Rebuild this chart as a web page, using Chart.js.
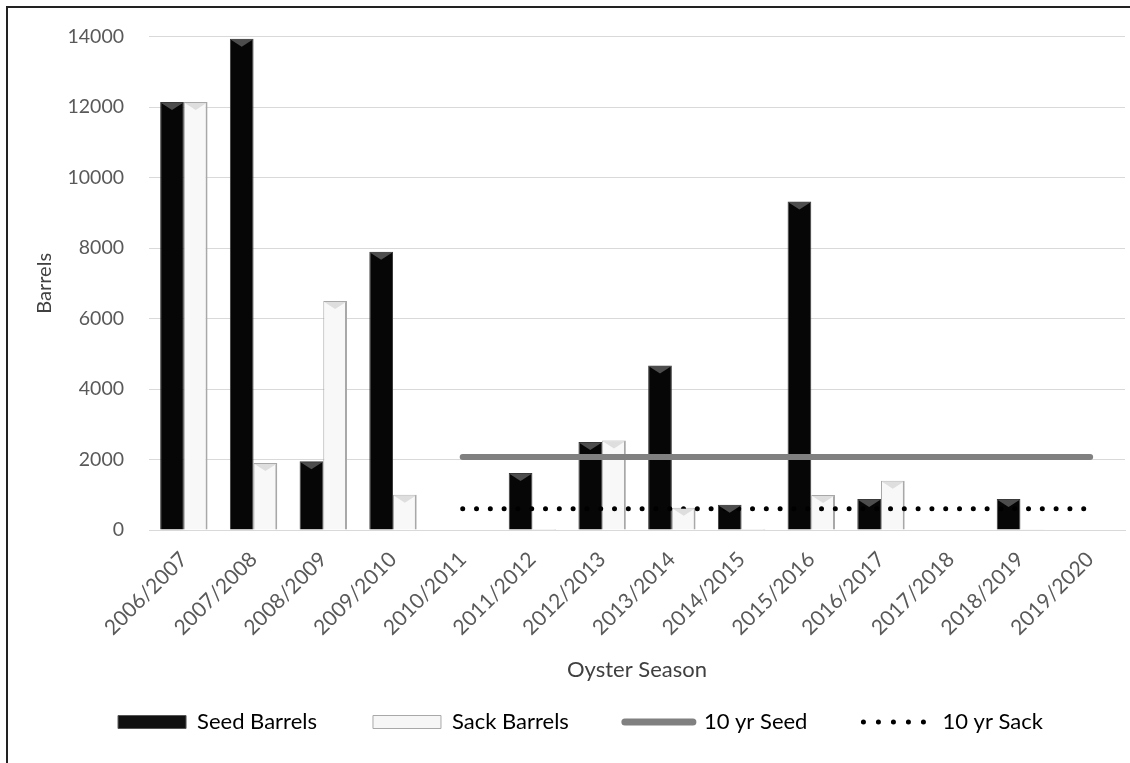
<!DOCTYPE html>
<html>
<head>
<meta charset="utf-8">
<script src="https://cdn.jsdelivr.net/npm/chart.js@4.4.1/dist/chart.umd.min.js"></script>
<style>
  html, body { margin: 0; padding: 0; background: #fff; }
  #wrap { position: relative; width: 1130px; height: 763px; overflow: hidden; background: #fff; }
  #frame { position: absolute; left: 6px; top: 6px; width: 1200px; height: 800px;
           border-top: 2px solid #222; border-left: 2px solid #222; pointer-events: none; }
  canvas { position: absolute; left: 0; top: 0; }
</style>
</head>
<body>
<div id="wrap">
  <canvas id="oysters" width="1130" height="763"></canvas>
  <div id="frame"></div>
</div>
<script>
const seasons = ['2006/2007', '2007/2008', '2008/2009', '2009/2010', '2010/2011', '2011/2012', '2012/2013',
  '2013/2014', '2014/2015', '2015/2016', '2016/2017', '2017/2018', '2018/2019', '2019/2020']
const seedBarrels = [12150, 13940, 1950, 7900, 0, 1620, 2500, 4670, 720, 9320, 880, 0, 880, 0]
const sackBarrels = [12150, 1900, 6500, 1000, 0, 30, 2540, 630, 30, 990, 1400, 0, 20, 0]
const tenYrSeed = [null, null, null, null, 2070, 2070, 2070, 2070, 2070, 2070, 2070, 2070, 2070, 2070]
const tenYrSack = [null, null, null, null, 600, 600, 600, 600, 600, 600, 600, 600, 600, 600]
const yTicks = [0, 2000, 4000, 6000, 8000, 10000, 12000, 14000]

// little bevel on the top of each bar, like the office-style 3D bars
const bevel = {
  id: 'bevel',
  afterDatasetsDraw(chart) {
    const ctx = chart.ctx
    ;[0, 1].forEach(i => {
      const meta = chart.getDatasetMeta(i)
      meta.data.forEach(bar => {
        const h = bar.base - bar.y
        if (h < 12) return
        const half = bar.width / 2
        ctx.save()
        ctx.beginPath()
        ctx.moveTo(bar.x - half + 1, bar.y + 1)
        ctx.lineTo(bar.x + half - 1, bar.y + 1)
        ctx.lineTo(bar.x, bar.y + 8)
        ctx.closePath()
        ctx.fillStyle = i === 0 ? '#4d4d4d' : '#dedede'
        ctx.fill()
        ctx.restore()
      })
    })
  }
}

function draw() {
  const ctx = document.querySelector('#oysters')

  new Chart(ctx, {
    data: {
      labels: seasons,
      datasets: [
        {
          type: 'bar',
          label: 'Seed Barrels',
          data: seedBarrels,
          backgroundColor: '#060606',
          borderColor: '#3a3a3a',
          borderWidth: 1,
          categoryPercentage: 0.68,
          barPercentage: 1,
          order: 2
        },
        {
          type: 'bar',
          label: 'Sack Barrels',
          data: sackBarrels,
          backgroundColor: '#f8f8f8',
          borderColor: '#a8a8a8',
          borderWidth: { left: 1, right: 2, top: 1, bottom: 0 },
          categoryPercentage: 0.68,
          barPercentage: 1,
          order: 2
        },
        {
          type: 'line',
          label: '10 yr Seed',
          data: tenYrSeed,
          borderColor: '#808080',
          borderWidth: 6,
          borderCapStyle: 'round',
          pointRadius: 0,
          fill: false,
          order: 1
        },
        {
          type: 'line',
          label: '10 yr Sack',
          data: tenYrSack,
          borderColor: '#000000',
          borderWidth: 5,
          borderDash: [0, 13.8],
          borderCapStyle: 'round',
          pointRadius: 0,
          fill: false,
          order: 0
        }
      ]
    },
    options: {
      responsive: false,
      animation: false,
      layout: {
        padding: { left: 36, right: 5, top: 33, bottom: 20 }
      },
      scales: {
        x: {
          grid: { display: false },
          border: { color: '#d9d9d9' },
          ticks: {
            color: '#595959',
            font: { size: 21 },
            minRotation: 45,
            maxRotation: 45,
            autoSkip: false,
            padding: 9
          },
          title: {
            display: true,
            text: 'Oyster Season',
            color: '#404040',
            font: { size: 22 },
            padding: { top: 0, bottom: -28 }
          },
          afterFit(scale) { scale.height = 125 }
        },
        y: {
          min: 0,
          max: 14000,
          afterBuildTicks(scale) { scale.ticks = yTicks.map(v => ({ value: v })) },
          grid: { color: '#d9d9d9', drawTicks: false },
          border: { display: false },
          ticks: {
            color: '#595959',
            font: { size: 19.5 },
            padding: 25,
            callback: v => String(v)
          },
          title: {
            display: true,
            text: 'Barrels',
            color: '#404040',
            font: { size: 20 },
            padding: { top: -3, bottom: 0 }
          },
          afterFit(scale) { scale.width = 113 }
        }
      },
      plugins: {
        legend: {
          position: 'bottom',
          labels: {
            color: '#404040',
            font: { size: 22 },
            usePointStyle: true,
            pointStyleWidth: 68,
            boxHeight: 13,
            padding: 56,
            generateLabels(chart) {
              return [
                { text: 'Seed Barrels', pointStyle: 'rect', fillStyle: '#111111', strokeStyle: '#555555', lineWidth: 1, datasetIndex: 0 },
                { text: 'Sack Barrels', pointStyle: 'rect', fillStyle: '#f6f6f6', strokeStyle: '#a8a8a8', lineWidth: 1, datasetIndex: 1 },
                { text: '10 yr Seed', pointStyle: 'line', strokeStyle: '#808080', lineWidth: 7, lineCap: 'round', datasetIndex: 2 },
                { text: '10 yr Sack', pointStyle: 'line', strokeStyle: '#000000', lineWidth: 5, lineCap: 'round', lineDash: [0, 15], datasetIndex: 3 }
              ]
            }
          }
        },
        tooltip: { enabled: false }
      }
    },
    plugins: [bevel]
  })
}

Chart.defaults.font.family = 'Lato'
document.fonts.load('22px Lato').then(draw, draw)
</script>
</body>
</html>
